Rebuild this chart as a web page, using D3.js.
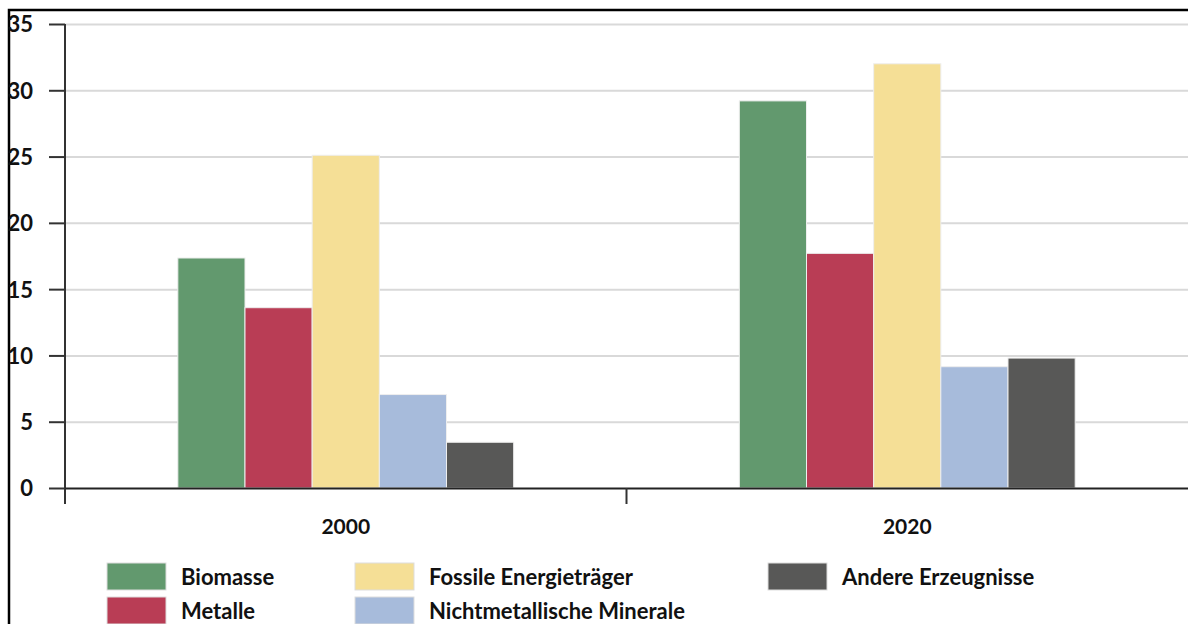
<!DOCTYPE html>
<head>
    <meta charset="utf-8" />
    <title>Materialverbrauch</title>
</head>
<style>
    body {
        margin: 0;
        background-color: #ffffff;
    }
    text {
        font-family: Lato, "Open Sans", sans-serif;
        fill: #111111;
    }
    .grid line {
        stroke: #d9d9d9;
        stroke-width: 2px;
    }
    .grid path {
        display: none;
    }
</style>
<body>
    <svg id="chart" width="1188" height="624"></svg>
    <script src="https://d3js.org/d3.v7.min.js"></script>
    <script>
        // data
        var years = ["2000", "2020"];
        var series = ["Biomasse", "Metalle", "Fossile Energieträger", "Nichtmetallische Minerale", "Andere Erzeugnisse"];
        var colors = ["#62996e", "#b93d55", "#f5df96", "#a7bbdb", "#585857"];
        var biomasse = [17.35, 29.2];
        var metalle = [13.6, 17.7];
        var fossile = [25.1, 32.0];
        var minerale = [7.05, 9.15];
        var andere = [3.45, 9.8];
        var yTicks = [0, 5, 10, 15, 20, 25, 30, 35];

        var values = [biomasse, metalle, fossile, minerale, andere];

        var svg = d3.select("#chart");

        var plotLeft = 65, plotRight = 1188, plotTop = 24, plotBottom = 488;

        var x0 = d3.scaleBand().domain(years).range([plotLeft, plotRight]).paddingInner(0).paddingOuter(0);
        var x1 = d3.scaleBand().domain(series).range([0, x0.bandwidth()]).paddingOuter(1.68).paddingInner(0);
        var y = d3.scaleLinear().domain([0, 35]).range([plotBottom, plotTop]);

        // frame
        svg.append("path")
            .attr("d", "M9,624 L9,10 L1188,10")
            .attr("fill", "none")
            .attr("stroke", "#000")
            .attr("stroke-width", 2.5);

        // gridlines
        svg.append("g")
            .attr("class", "grid")
            .attr("transform", "translate(" + plotLeft + ",0)")
            .call(d3.axisRight(y).tickValues(yTicks.slice(1)).tickSize(plotRight - plotLeft).tickFormat(""));

        // bars
        var groups = svg.selectAll(".year")
            .data(years)
            .enter().append("g")
            .attr("class", "year")
            .attr("transform", function(d) { return "translate(" + x0(d) + ",0)"; });

        groups.selectAll("rect")
            .data(function(d, i) {
                return series.map(function(s, j) { return { key: s, value: values[j][i], color: colors[j] }; });
            })
            .enter().append("rect")
            .attr("x", function(d) { return x1(d.key); })
            .attr("width", x1.bandwidth())
            .attr("y", function(d) { return y(d.value); })
            .attr("height", function(d) { return plotBottom - y(d.value); })
            .attr("fill", function(d) { return d.color; })
            .attr("stroke", "#eeeeee")
            .attr("stroke-width", 1);

        // y axis
        var yAxis = svg.append("g")
            .attr("transform", "translate(" + plotLeft + ",0)")
            .call(d3.axisLeft(y).tickValues(yTicks).tickSize(16).tickPadding(16));
        yAxis.select(".domain").attr("d", "M0," + plotTop + "V" + (plotBottom + 16)).attr("stroke", "#333").attr("stroke-width", 2);
        yAxis.selectAll(".tick line").attr("stroke", "#333").attr("stroke-width", 2);
        yAxis.selectAll(".tick text")
            .attr("dy", "0.36em")
            .attr("font-size", "22px")
            .attr("font-weight", "bold")
            .style("font-family", "Lato, sans-serif")
            .attr("fill", "#111");

        // x axis
        var xAxis = svg.append("g")
            .attr("transform", "translate(0," + plotBottom + ")")
            .call(d3.axisBottom(x0).tickSize(0).tickPadding(31));
        xAxis.select(".domain").attr("stroke", "#222").attr("stroke-width", 2);
        xAxis.selectAll(".tick text")
            .attr("font-size", "21px")
            .attr("font-weight", "bold")
            .style("font-family", "Lato, sans-serif")
            .attr("fill", "#111");

        // category separators
        svg.append("g").selectAll("line")
            .data(years.slice(1))
            .enter().append("line")
            .attr("x1", function(d) { return x0(d); })
            .attr("x2", function(d) { return x0(d); })
            .attr("y1", plotBottom)
            .attr("y2", plotBottom + 16)
            .attr("stroke", "#333")
            .attr("stroke-width", 2);

        // legend
        var legendX = [107, 355, 768];
        var legend = svg.append("g").selectAll("g")
            .data(series)
            .enter().append("g")
            .attr("transform", function(d, i) {
                return "translate(" + legendX[Math.floor(i / 2)] + "," + (563 + (i % 2) * 34) + ")";
            });
        legend.append("rect")
            .attr("width", 59)
            .attr("height", 27)
            .attr("fill", function(d, i) { return colors[i]; })
            .attr("stroke", "#dddddd")
            .attr("stroke-width", 1);
        legend.append("text")
            .attr("x", 74)
            .attr("y", 22)
            .attr("font-size", "22px")
            .attr("font-weight", "bold")
            .text(function(d) { return d; });
    </script>
</body>
